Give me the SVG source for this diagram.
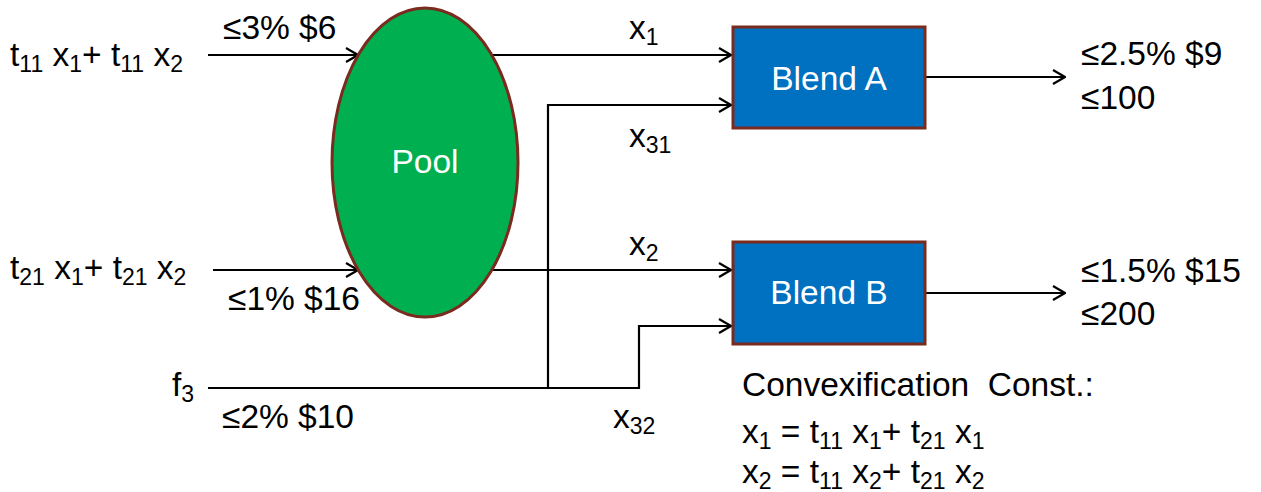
<svg xmlns="http://www.w3.org/2000/svg" width="1261" height="492" viewBox="0 0 1261 492">
<defs>
<marker id="arr" viewBox="0 0 14 16" refX="13" refY="8" markerWidth="14" markerHeight="16" markerUnits="userSpaceOnUse" orient="auto">
<path d="M1,1 L13,8 L1,15" fill="none" stroke="#000" stroke-width="2.2"/>
</marker>
<style>
text{font-family:"Liberation Sans",Arial,sans-serif;font-size:33.5px;fill:#000;white-space:pre}
.w{fill:#fff}
.s{font-size:23px}
.c{stroke:#000;stroke-width:2.2;fill:none}
</style>
</defs>
<rect width="1261" height="492" fill="#fff"/>
<g id="connectors">
<path class="c" d="M208,55 H358" marker-end="url(#arr)"/>
<path class="c" d="M213,270 H358" marker-end="url(#arr)"/>
<path class="c" d="M492,55 H731" marker-end="url(#arr)"/>
<path class="c" d="M492,270 H731" marker-end="url(#arr)"/>
<path class="c" d="M548,388 V105 H731" marker-end="url(#arr)"/>
<path class="c" d="M208,388 H639 V326 H731" marker-end="url(#arr)"/>
<path class="c" d="M925,77 H1065" marker-end="url(#arr)"/>
<path class="c" d="M925,293 H1065" marker-end="url(#arr)"/>
</g>
<g id="pool">
<ellipse cx="425" cy="162.5" rx="93" ry="154.5" fill="#00b050" stroke="#7b2a1e" stroke-width="3"/>
<text class="w" x="425" y="173" text-anchor="middle">Pool</text>
</g>
<g id="blendA">
<rect x="733" y="27" width="192" height="101" fill="#0070c0" stroke="#7b2a1e" stroke-width="3"/>
<text class="w" x="829" y="90" text-anchor="middle">Blend A</text>
</g>
<g id="blendB">
<rect x="733" y="242" width="192" height="102" fill="#0070c0" stroke="#7b2a1e" stroke-width="3"/>
<text class="w" x="829" y="304" text-anchor="middle">Blend B</text>
</g>
<g id="labels">
<text x="10" y="66">t<tspan class="s" dy="6">11</tspan><tspan dy="-6"> x</tspan><tspan class="s" dy="6">1</tspan><tspan dy="-6">+ t</tspan><tspan class="s" dy="6">11</tspan><tspan dy="-6"> x</tspan><tspan class="s" dy="6">2</tspan></text>
<text x="223" y="39">≤3% $6</text>
<text x="10" y="279">t<tspan class="s" dy="6">21</tspan><tspan dy="-6"> x</tspan><tspan class="s" dy="6">1</tspan><tspan dy="-6">+ t</tspan><tspan class="s" dy="6">21</tspan><tspan dy="-6"> x</tspan><tspan class="s" dy="6">2</tspan></text>
<text x="228" y="310">≤1% $16</text>
<text x="172" y="396">f<tspan class="s" dy="6">3</tspan></text>
<text x="222" y="428">≤2% $10</text>
<text x="629" y="39">x<tspan class="s" dy="6">1</tspan></text>
<text x="629" y="147">x<tspan class="s" dy="6">31</tspan></text>
<text x="629" y="255">x<tspan class="s" dy="6">2</tspan></text>
<text x="613" y="428">x<tspan class="s" dy="6">32</tspan></text>
<text x="1081" y="65">≤2.5% $9</text>
<text x="1081" y="109">≤100</text>
<text x="1081" y="282">≤1.5% $15</text>
<text x="1081" y="325">≤200</text>
<text x="742" y="396">Convexification  Const.:</text>
<text x="742" y="443">x<tspan class="s" dy="6">1</tspan><tspan dy="-6"> = t</tspan><tspan class="s" dy="6">11</tspan><tspan dy="-6"> x</tspan><tspan class="s" dy="6">1</tspan><tspan dy="-6">+ t</tspan><tspan class="s" dy="6">21</tspan><tspan dy="-6"> x</tspan><tspan class="s" dy="6">1</tspan></text>
<text x="742" y="483">x<tspan class="s" dy="6">2</tspan><tspan dy="-6"> = t</tspan><tspan class="s" dy="6">11</tspan><tspan dy="-6"> x</tspan><tspan class="s" dy="6">2</tspan><tspan dy="-6">+ t</tspan><tspan class="s" dy="6">21</tspan><tspan dy="-6"> x</tspan><tspan class="s" dy="6">2</tspan></text>
</g>
</svg>
